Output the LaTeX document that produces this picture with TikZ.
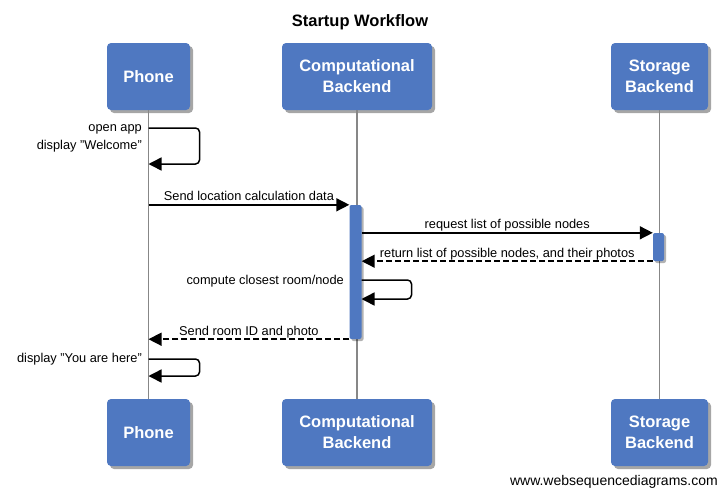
\documentclass[tikz,border=0pt]{standalone}
\usepackage{fontspec}
\setmainfont{Liberation Sans}
\usepackage{tikz}
\usetikzlibrary{arrows.meta,shadows}
\definecolor{wsdblue}{RGB}{79,120,193}
\definecolor{lifegray}{RGB}{135,135,135}

\begin{document}
\begin{tikzpicture}[x = 1pt, y = -1pt,
  actor/.style = {fill = wsdblue, rounded corners = 4pt, minimum height = 67pt, text = white, align = center,
    font = \fontsize{16.5}{21}\selectfont\bfseries,
    drop shadow = {shadow xshift = 3pt, shadow yshift = -3pt, fill = black, opacity = .35}},
  activation/.style = {fill = wsdblue, rounded corners = 2pt, minimum width = 12pt, inner sep = 0pt,
    drop shadow = {shadow xshift = 2pt, shadow yshift = -2pt, fill = black, opacity = .3}},
  lifeline/.style = {lifegray, line width = 1.8pt},
  msg/.style = {line width = 1.5pt, -{Triangle[length = 13pt, width = 13pt]}},
  reply/.style = {msg, dash pattern = on 6pt off 3pt},
  lbl/.style = {font = \fontsize{12.8}{18}\selectfont, inner sep = 0pt}]
  \useasboundingbox (0, 0) rectangle (719, 488);
  \node [font = \fontsize{16.5}{20}\selectfont\bfseries] (title) at (360, 22) {Startup Workflow};
  % participants
  \node [actor, minimum width = 83pt] (phoneTop) at (148.5, 76.5) {Phone};
  \node [actor, minimum width = 150pt] (compTop) at (357, 76.5) {Computational\\Backend};
  \node [actor, minimum width = 97pt] (storTop) at (659.5, 76.5) {Storage\\Backend};
  \node [actor, minimum width = 83pt] (phoneBot) at (148.5, 432.5) {Phone};
  \node [actor, minimum width = 150pt] (compBot) at (357, 432.5) {Computational\\Backend};
  \node [actor, minimum width = 97pt] (storBot) at (659.5, 432.5) {Storage\\Backend};
  \draw [lifeline] (phoneTop) -- (phoneBot);
  \draw [lifeline] (compTop) -- (compBot);
  \draw [lifeline] (storTop) -- (storBot);
  \node [activation, minimum height = 134pt] (actComp) at (355.5, 272) {};
  \node [activation, minimum width = 11pt, minimum height = 28pt] (actStor) at (658.5, 247) {};
  % messages
  \coordinate (openStart) at (148.5, 128);
  \coordinate (openEnd) at (148.5, 164);
  \draw [msg, rounded corners = 4pt] (openStart) -- ++(51, 0) -- ++(0, 36) -- (openEnd);
  \node [lbl, anchor = east, align = right] (openLbl) at (142, 138) {open app\\display "Welcome"};
  \draw [msg] (phoneTop |- actComp.north) -- (actComp.north west)
    node [lbl, midway, anchor = base, yshift = 4pt] (sendLbl) {Send location calculation data};
  \draw [msg] (actComp.east |- actStor.north) -- (actStor.north west)
    node [lbl, midway, anchor = base, yshift = 4pt] (reqLbl) {request list of possible nodes};
  \draw [reply] (actStor.south west) -- (actComp.east |- actStor.south)
    node [lbl, midway, anchor = base, yshift = 4pt] (retLbl) {return list of possible nodes, and their photos};
  \coordinate (cmpStart) at (361.5, 280);
  \coordinate (cmpEnd) at (361.5, 299);
  \draw [msg, rounded corners = 4pt] (cmpStart) -- ++(50, 0) -- ++(0, 19) -- (cmpEnd);
  \node [lbl, anchor = east] (cmpLbl) at (344, 281) {compute closest room/node};
  \draw [reply] (actComp.south west) -- (phoneTop |- actComp.south)
    node [lbl, midway, anchor = base, yshift = 4pt] (roomLbl) {Send room ID and photo};
  \coordinate (hereStart) at (148.5, 359);
  \coordinate (hereEnd) at (148.5, 376);
  \draw [msg, rounded corners = 4pt] (hereStart) -- ++(51, 0) -- ++(0, 17) -- (hereEnd);
  \node [lbl, anchor = east] (hereLbl) at (142, 359) {display "You are here"};
  \node [anchor = base east, inner sep = 0pt, font = \fontsize{14}{16}\selectfont] (site) at (718, 485) {www.websequencediagrams.com};
\end{tikzpicture}
\end{document}
